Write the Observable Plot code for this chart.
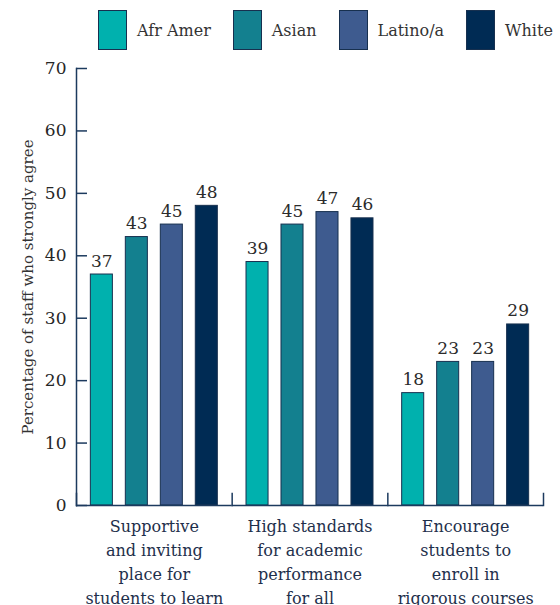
<!DOCTYPE html>
<html>
<head>
<meta charset="utf-8">
<script src="https://cdn.jsdelivr.net/npm/d3@7"></script>
<script src="https://cdn.jsdelivr.net/npm/@observablehq/plot@0.6"></script>
<style>
  body { margin: 0; background: #fff; }
  #wrap { position: relative; width: 560px; height: 605px; font-family: "DejaVu Serif", serif; }
  #legend { position: absolute; top: 10px; left: 98px; display: flex; align-items: center; gap: 22px; }
  .item { display: flex; align-items: center; gap: 10px; font-size: 16px; color: #333; }
  .sw { width: 29px; height: 40px; border: 1px solid #17304f; box-sizing: border-box; }
</style>
</head>
<body>
<div id="wrap"><div id="legend"></div></div>
<script>
// Survey items (one facet each) and the four staff groups
const items = [
  "Supportive and inviting place for students to learn",
  "High standards for academic performance for all",
  "Encourage students to enroll in rigorous courses"
];
const itemLines = [
  ["Supportive", "and inviting", "place for", "students to learn"],
  ["High standards", "for academic", "performance", "for all"],
  ["Encourage", "students to", "enroll in", "rigorous courses"]
];
const races = ["Afr Amer", "Asian", "Latino/a", "White"];
const raceColors = ["#00b1ae", "#13808f", "#3e5b8f", "#002b54"];

// Percent of staff who strongly agree, per item (rows) and group (columns)
const afrAmer = [37, 39, 18];
const asian = [43, 45, 23];
const latino = [45, 47, 23];
const white = [48, 46, 29];

const yTicks = [0, 10, 20, 30, 40, 50, 60, 70];
const yTitle = "Percentage of staff who strongly agree";

const series = [afrAmer, asian, latino, white];
const rows = items.flatMap((item, i) =>
  races.map((race, j) => ({item, race, value: series[j][i]}))
);
const labelOf = new Map(items.map((d, i) => [d, itemLines[i].join("\n")]));

const ink = "#1c3a5e";
const outline = "#17304f";

const chart = Plot.plot({
  width: 560,
  height: 605,
  marginTop: 68,
  marginBottom: 100,
  marginLeft: 76,
  marginRight: 17,
  style: {fontFamily: "DejaVu Serif, serif", background: "transparent", color: "#262626"},
  fx: {domain: items, padding: 0, round: false, label: null},
  x: {domain: races, paddingInner: 0.37, paddingOuter: 0.41, round: false, axis: null},
  y: {domain: [0, 70], label: null, axis: null},
  color: {domain: races, range: raceColors},
  marks: [
    Plot.barY(rows, {fx: "item", x: "race", y: "value", fill: "race", stroke: outline, strokeWidth: 1}),
    Plot.text(rows, {fx: "item", x: "race", y: "value", text: d => String(d.value),
      lineAnchor: "bottom", dy: -8, fontSize: 17, fill: "#2b2b2b"}),
    Plot.ruleY([0], {stroke: ink, strokeWidth: 1.5}),
    Plot.frame({anchor: "left", facetAnchor: "left", stroke: ink, strokeWidth: 1.5}),
    Plot.frame({anchor: "left", insetTop: 425, stroke: ink, strokeWidth: 1.5}),
    Plot.frame({anchor: "right", facetAnchor: "right", insetTop: 425, stroke: ink, strokeWidth: 1.5}),
    Plot.axisY({ticks: yTicks, tickSize: -11, tickPadding: 21, stroke: ink, strokeWidth: 1.5,
      fontSize: 17, fill: "#262626", label: null}),
    Plot.text([yTitle], {frameAnchor: "left", facetAnchor: "left", rotate: -90, dx: -48,
      textAnchor: "middle", fontSize: 15, fill: "#333", text: d => d}),
    Plot.axisFx({anchor: "bottom", tickSize: 0, tickPadding: 9, fontSize: 16, lineHeight: 1.5,
      fill: "#1e2f4b", label: null, tickFormat: d => labelOf.get(d)})
  ]
});
document.getElementById("wrap").prepend(chart);

// Swatch legend above the chart
const legend = d3.select("#legend");
races.forEach((r, i) => {
  const it = legend.append("div").attr("class", "item");
  it.append("div").attr("class", "sw").style("background", raceColors[i]);
  it.append("span").text(r);
});
</script>
</body>
</html>
